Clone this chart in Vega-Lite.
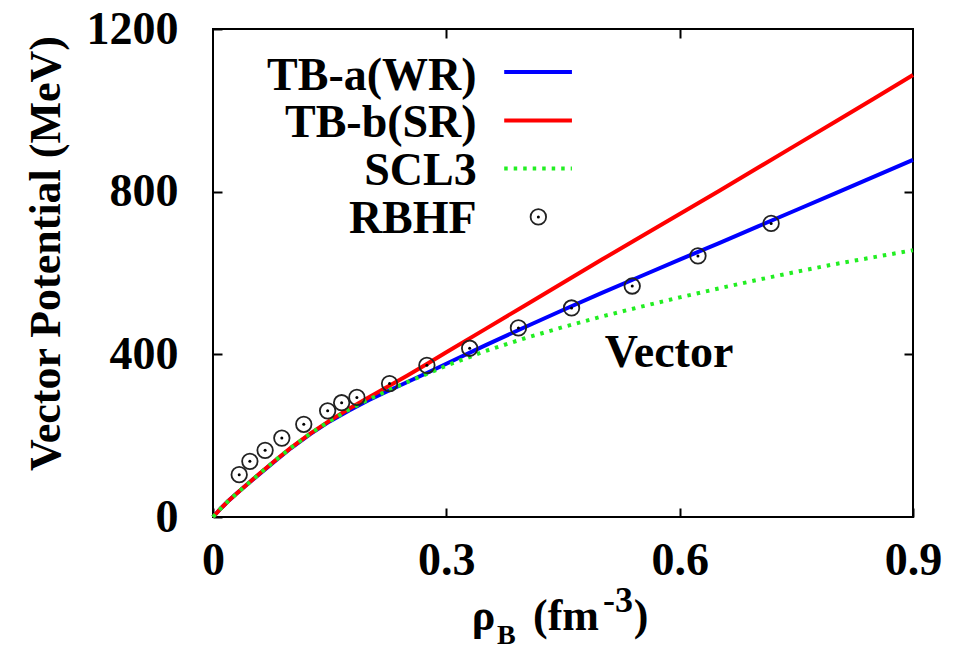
{
  "$schema": "https://vega.github.io/schema/vega-lite/v6.json",
  "width": 700,
  "height": 488,
  "autosize": "none",
  "padding": {"left": 213, "top": 29, "right": 47, "bottom": 133},
  "background": "white",
  "config": {
    "view": {"stroke": "black", "strokeWidth": 2},
    "font": "Liberation Serif",
    "axis": {
      "domain": false,
      "grid": false,
      "tickColor": "black",
      "tickWidth": 2,
      "tickSize": -9,
      "labelFont": "Liberation Serif",
      "labelFontWeight": "bold",
      "labelFontSize": 46,
      "labelColor": "black",
      "labelFlush": false,
      "labelOverlap": false,
      "titleFont": "Liberation Serif",
      "titleFontWeight": "bold",
      "titleFontSize": 44,
      "titleColor": "black"
    }
  },
  "datasets": {
    "curves": [
      {"series": "TB-a(WR)", "rho": 0, "V": 0},
      {"series": "TB-a(WR)", "rho": 0.01, "V": 21},
      {"series": "TB-a(WR)", "rho": 0.02, "V": 40},
      {"series": "TB-a(WR)", "rho": 0.03, "V": 57},
      {"series": "TB-a(WR)", "rho": 0.04, "V": 74},
      {"series": "TB-a(WR)", "rho": 0.06, "V": 106},
      {"series": "TB-a(WR)", "rho": 0.08, "V": 138},
      {"series": "TB-a(WR)", "rho": 0.1, "V": 169},
      {"series": "TB-a(WR)", "rho": 0.125, "V": 204},
      {"series": "TB-a(WR)", "rho": 0.15, "V": 235},
      {"series": "TB-a(WR)", "rho": 0.175, "V": 262},
      {"series": "TB-a(WR)", "rho": 0.2, "V": 287},
      {"series": "TB-a(WR)", "rho": 0.225, "V": 310},
      {"series": "TB-a(WR)", "rho": 0.25, "V": 332},
      {"series": "TB-a(WR)", "rho": 0.275, "V": 354},
      {"series": "TB-a(WR)", "rho": 0.3, "V": 377},
      {"series": "TB-a(WR)", "rho": 0.35, "V": 422},
      {"series": "TB-a(WR)", "rho": 0.4, "V": 466},
      {"series": "TB-a(WR)", "rho": 0.45, "V": 509},
      {"series": "TB-a(WR)", "rho": 0.5, "V": 551},
      {"series": "TB-a(WR)", "rho": 0.55, "V": 592},
      {"series": "TB-a(WR)", "rho": 0.6, "V": 633},
      {"series": "TB-a(WR)", "rho": 0.65, "V": 673},
      {"series": "TB-a(WR)", "rho": 0.7, "V": 714},
      {"series": "TB-a(WR)", "rho": 0.75, "V": 755},
      {"series": "TB-a(WR)", "rho": 0.8, "V": 796},
      {"series": "TB-a(WR)", "rho": 0.85, "V": 837},
      {"series": "TB-a(WR)", "rho": 0.9, "V": 878},
      {"series": "TB-b(SR)", "rho": 0, "V": 0},
      {"series": "TB-b(SR)", "rho": 0.01, "V": 21},
      {"series": "TB-b(SR)", "rho": 0.02, "V": 40},
      {"series": "TB-b(SR)", "rho": 0.03, "V": 57},
      {"series": "TB-b(SR)", "rho": 0.04, "V": 74},
      {"series": "TB-b(SR)", "rho": 0.06, "V": 107},
      {"series": "TB-b(SR)", "rho": 0.08, "V": 139},
      {"series": "TB-b(SR)", "rho": 0.1, "V": 170},
      {"series": "TB-b(SR)", "rho": 0.125, "V": 205},
      {"series": "TB-b(SR)", "rho": 0.15, "V": 237},
      {"series": "TB-b(SR)", "rho": 0.175, "V": 266},
      {"series": "TB-b(SR)", "rho": 0.2, "V": 294},
      {"series": "TB-b(SR)", "rho": 0.225, "V": 321},
      {"series": "TB-b(SR)", "rho": 0.25, "V": 348},
      {"series": "TB-b(SR)", "rho": 0.275, "V": 376},
      {"series": "TB-b(SR)", "rho": 0.3, "V": 405},
      {"series": "TB-b(SR)", "rho": 0.35, "V": 462},
      {"series": "TB-b(SR)", "rho": 0.4, "V": 519},
      {"series": "TB-b(SR)", "rho": 0.45, "V": 576},
      {"series": "TB-b(SR)", "rho": 0.5, "V": 633},
      {"series": "TB-b(SR)", "rho": 0.55, "V": 689},
      {"series": "TB-b(SR)", "rho": 0.6, "V": 745},
      {"series": "TB-b(SR)", "rho": 0.65, "V": 801},
      {"series": "TB-b(SR)", "rho": 0.7, "V": 858},
      {"series": "TB-b(SR)", "rho": 0.75, "V": 915},
      {"series": "TB-b(SR)", "rho": 0.8, "V": 972},
      {"series": "TB-b(SR)", "rho": 0.85, "V": 1029},
      {"series": "TB-b(SR)", "rho": 0.9, "V": 1087},
      {"series": "SCL3", "rho": 0, "V": 0},
      {"series": "SCL3", "rho": 0.01, "V": 21},
      {"series": "SCL3", "rho": 0.02, "V": 40},
      {"series": "SCL3", "rho": 0.03, "V": 57},
      {"series": "SCL3", "rho": 0.04, "V": 74},
      {"series": "SCL3", "rho": 0.06, "V": 107},
      {"series": "SCL3", "rho": 0.08, "V": 139},
      {"series": "SCL3", "rho": 0.1, "V": 170},
      {"series": "SCL3", "rho": 0.125, "V": 205},
      {"series": "SCL3", "rho": 0.15, "V": 236},
      {"series": "SCL3", "rho": 0.175, "V": 264},
      {"series": "SCL3", "rho": 0.2, "V": 289},
      {"series": "SCL3", "rho": 0.225, "V": 311},
      {"series": "SCL3", "rho": 0.25, "V": 332},
      {"series": "SCL3", "rho": 0.275, "V": 352},
      {"series": "SCL3", "rho": 0.3, "V": 372},
      {"series": "SCL3", "rho": 0.35, "V": 408},
      {"series": "SCL3", "rho": 0.4, "V": 439},
      {"series": "SCL3", "rho": 0.45, "V": 467},
      {"series": "SCL3", "rho": 0.5, "V": 493},
      {"series": "SCL3", "rho": 0.55, "V": 517},
      {"series": "SCL3", "rho": 0.6, "V": 540},
      {"series": "SCL3", "rho": 0.65, "V": 562},
      {"series": "SCL3", "rho": 0.7, "V": 583},
      {"series": "SCL3", "rho": 0.75, "V": 603},
      {"series": "SCL3", "rho": 0.8, "V": 622},
      {"series": "SCL3", "rho": 0.85, "V": 639},
      {"series": "SCL3", "rho": 0.9, "V": 656}
    ],
    "rbhf": [
      {"rho": 0.0337, "V": 104},
      {"rho": 0.0474, "V": 137},
      {"rho": 0.067, "V": 164},
      {"rho": 0.0885, "V": 194},
      {"rho": 0.1167, "V": 228},
      {"rho": 0.1474, "V": 261},
      {"rho": 0.1654, "V": 281},
      {"rho": 0.185, "V": 294},
      {"rho": 0.227, "V": 328},
      {"rho": 0.275, "V": 373},
      {"rho": 0.33, "V": 415},
      {"rho": 0.3927, "V": 465},
      {"rho": 0.461, "V": 514},
      {"rho": 0.539, "V": 568},
      {"rho": 0.6235, "V": 642},
      {"rho": 0.7176, "V": 722}
    ],
    "one": [{}]
  },
  "layer": [
    {
      "data": {"name": "curves"},
      "transform": [{"filter": "datum.series === 'TB-a(WR)'"}],
      "mark": {"type": "line", "color": "#0000ff", "strokeWidth": 4},
      "encoding": {
        "x": {"field": "rho", "type": "quantitative", "scale": {"domain": [0, 0.9], "nice": false, "zero": false},
              "axis": {"orient": "bottom", "values": [0, 0.3, 0.6, 0.9], "format": ".1~f", "title": null, "labelPadding": 30}},
        "y": {"field": "V", "type": "quantitative", "scale": {"domain": [0, 1200], "nice": false},
              "axis": {"orient": "left", "values": [0, 400, 800, 1200], "format": "d", "labelPadding": 44,
                       "title": "Vector Potential (MeV)", "titlePadding": 18, "titleY": 224}}
      }
    },
    {
      "data": {"name": "curves"},
      "transform": [{"filter": "datum.series === 'TB-b(SR)'"}],
      "mark": {"type": "line", "color": "#ff0000", "strokeWidth": 4},
      "encoding": {
        "x": {"field": "rho", "type": "quantitative",
              "axis": {"orient": "top", "values": [0.3, 0.6], "labels": false, "title": null}},
        "y": {"field": "V", "type": "quantitative",
              "axis": {"orient": "right", "values": [400, 800], "labels": false, "title": null}}
      }
    },
    {
      "data": {"name": "curves"},
      "transform": [{"filter": "datum.series === 'SCL3'"}],
      "mark": {"type": "line", "color": "#22ee22", "strokeWidth": 4, "strokeDash": [3.5, 6]},
      "encoding": {
        "x": {"field": "rho", "type": "quantitative", "axis": null},
        "y": {"field": "V", "type": "quantitative", "axis": null}
      }
    },
    {
      "data": {"name": "rbhf"},
      "mark": {"type": "point", "shape": "circle", "filled": false, "size": 240, "stroke": "#222222", "strokeWidth": 1.8, "opacity": 1},
      "encoding": {
        "x": {"field": "rho", "type": "quantitative", "axis": null},
        "y": {"field": "V", "type": "quantitative", "axis": null}
      }
    },
    {
      "data": {"name": "rbhf"},
      "mark": {"type": "point", "shape": "circle", "filled": true, "size": 9, "color": "black", "opacity": 1},
      "encoding": {
        "x": {"field": "rho", "type": "quantitative", "axis": null},
        "y": {"field": "V", "type": "quantitative", "axis": null}
      }
    },
    {
      "data": {"name": "one"},
      "mark": {"type": "text", "align": "right", "baseline": "alphabetic", "fontSize": 46, "fontWeight": "bold", "font": "Liberation Serif", "color": "black"},
      "encoding": {"x": {"datum": 0.339, "type": "quantitative", "axis": null}, "y": {"datum": 1050, "type": "quantitative", "axis": null}, "text": {"value": "TB-a(WR)"}}
    },
    {
      "data": {"name": "one"},
      "mark": {"type": "text", "align": "right", "baseline": "alphabetic", "fontSize": 46, "fontWeight": "bold", "font": "Liberation Serif", "color": "black"},
      "encoding": {"x": {"datum": 0.339, "type": "quantitative", "axis": null}, "y": {"datum": 935, "type": "quantitative", "axis": null}, "text": {"value": "TB-b(SR)"}}
    },
    {
      "data": {"name": "one"},
      "mark": {"type": "text", "align": "right", "baseline": "alphabetic", "fontSize": 46, "fontWeight": "bold", "font": "Liberation Serif", "color": "black"},
      "encoding": {"x": {"datum": 0.339, "type": "quantitative", "axis": null}, "y": {"datum": 816, "type": "quantitative", "axis": null}, "text": {"value": "SCL3"}}
    },
    {
      "data": {"name": "one"},
      "mark": {"type": "text", "align": "right", "baseline": "alphabetic", "fontSize": 46, "fontWeight": "bold", "font": "Liberation Serif", "color": "black"},
      "encoding": {"x": {"datum": 0.339, "type": "quantitative", "axis": null}, "y": {"datum": 698, "type": "quantitative", "axis": null}, "text": {"value": "RBHF"}}
    },
    {
      "data": {"name": "one"},
      "mark": {"type": "rule", "color": "#0000ff", "strokeWidth": 4},
      "encoding": {"x": {"datum": 0.3744, "type": "quantitative", "axis": null}, "x2": {"datum": 0.4615}, "y": {"datum": 1094, "type": "quantitative", "axis": null}}
    },
    {
      "data": {"name": "one"},
      "mark": {"type": "rule", "color": "#ff0000", "strokeWidth": 4},
      "encoding": {"x": {"datum": 0.3744, "type": "quantitative", "axis": null}, "x2": {"datum": 0.4615}, "y": {"datum": 975, "type": "quantitative", "axis": null}}
    },
    {
      "data": {"name": "one"},
      "mark": {"type": "rule", "color": "#22ee22", "strokeWidth": 4, "strokeDash": [3.5, 6]},
      "encoding": {"x": {"datum": 0.3744, "type": "quantitative", "axis": null}, "x2": {"datum": 0.4615}, "y": {"datum": 857, "type": "quantitative", "axis": null}}
    },
    {
      "data": {"name": "one"},
      "mark": {"type": "point", "shape": "circle", "filled": false, "size": 240, "stroke": "#222222", "strokeWidth": 1.8, "opacity": 1},
      "encoding": {"x": {"datum": 0.4183, "type": "quantitative", "axis": null}, "y": {"datum": 738, "type": "quantitative", "axis": null}}
    },
    {
      "data": {"name": "one"},
      "mark": {"type": "point", "shape": "circle", "filled": true, "size": 9, "color": "black", "opacity": 1},
      "encoding": {"x": {"datum": 0.4183, "type": "quantitative", "axis": null}, "y": {"datum": 738, "type": "quantitative", "axis": null}}
    },
    {
      "data": {"name": "one"},
      "mark": {"type": "text", "align": "center", "baseline": "alphabetic", "fontSize": 46, "fontWeight": "bold", "font": "Liberation Serif", "color": "black"},
      "encoding": {"x": {"datum": 0.5863, "type": "quantitative", "axis": null}, "y": {"datum": 370, "type": "quantitative", "axis": null}, "text": {"value": "Vector"}}
    },
    {
      "data": {"name": "one"},
      "mark": {"type": "text", "align": "left", "baseline": "alphabetic", "fontSize": 44, "fontWeight": "bold", "font": "Liberation Serif", "color": "black"},
      "encoding": {"x": {"datum": 0.3326, "type": "quantitative", "axis": null}, "y": {"datum": -278, "type": "quantitative", "axis": null}, "text": {"value": "ρ"}}
    },
    {
      "data": {"name": "one"},
      "mark": {"type": "text", "align": "left", "baseline": "alphabetic", "fontSize": 28, "fontWeight": "bold", "font": "Liberation Serif", "color": "black"},
      "encoding": {"x": {"datum": 0.3651, "type": "quantitative", "axis": null}, "y": {"datum": -312, "type": "quantitative", "axis": null}, "text": {"value": "B"}}
    },
    {
      "data": {"name": "one"},
      "mark": {"type": "text", "align": "left", "baseline": "alphabetic", "fontSize": 44, "fontWeight": "bold", "font": "Liberation Serif", "color": "black"},
      "encoding": {"x": {"datum": 0.4114, "type": "quantitative", "axis": null}, "y": {"datum": -278, "type": "quantitative", "axis": null}, "text": {"value": "(fm"}}
    },
    {
      "data": {"name": "one"},
      "mark": {"type": "text", "align": "left", "baseline": "alphabetic", "fontSize": 36, "fontWeight": "bold", "font": "Liberation Serif", "color": "black"},
      "encoding": {"x": {"datum": 0.5014, "type": "quantitative", "axis": null}, "y": {"datum": -234, "type": "quantitative", "axis": null}, "text": {"value": "-3"}}
    },
    {
      "data": {"name": "one"},
      "mark": {"type": "text", "align": "left", "baseline": "alphabetic", "fontSize": 44, "fontWeight": "bold", "font": "Liberation Serif", "color": "black"},
      "encoding": {"x": {"datum": 0.541, "type": "quantitative", "axis": null}, "y": {"datum": -278, "type": "quantitative", "axis": null}, "text": {"value": ")"}}
    }
  ],
  "resolve": {"axis": {"x": "independent", "y": "independent"}}
}
